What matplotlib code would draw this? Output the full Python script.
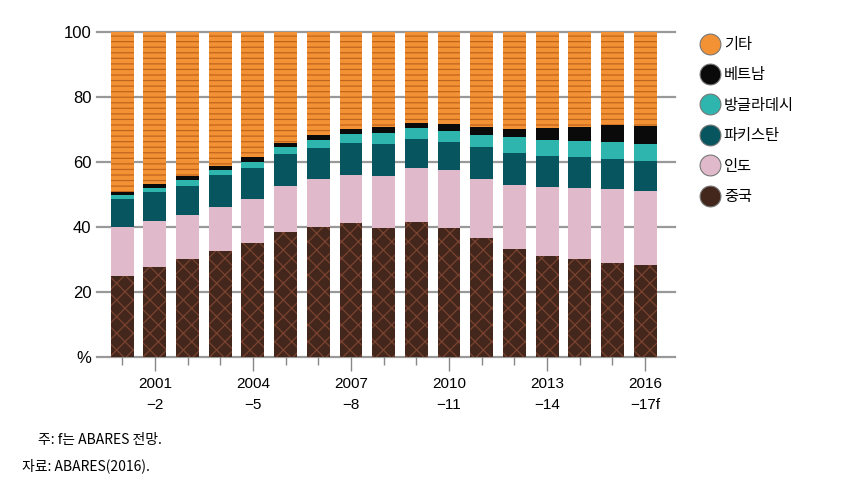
import numpy as np
import matplotlib
matplotlib.use('Agg')
import matplotlib.pyplot as plt
from matplotlib.lines import Line2D

plt.rcParams['font.family'] = ['Liberation Sans', 'Noto Sans CJK KR', 'DejaVu Sans']
plt.rcParams['hatch.linewidth'] = 0.9

# 연도 (2000-01 ~ 2016-17f)
years = ["2000\n−1", "2001\n−2", "2002\n−3", "2003\n−4", "2004\n−5", "2005\n−6",
         "2006\n−7", "2007\n−8", "2008\n−9", "2009\n−10", "2010\n−11", "2011\n−12",
         "2012\n−13", "2013\n−14", "2014\n−15", "2015\n−16", "2016\n−17f"]

china = [25.1, 27.7, 30.3, 32.7, 35.0, 38.4, 40.1, 41.2, 39.8, 41.7, 39.8, 36.5, 33.2, 31.2, 30.1, 29.0, 28.2]
india = [14.8, 14.1, 13.4, 13.5, 13.5, 14.2, 14.6, 14.9, 15.9, 16.3, 17.6, 18.4, 19.8, 21.0, 21.8, 22.7, 22.9]
pakistan = [8.7, 8.9, 9.0, 9.8, 9.7, 9.7, 9.6, 9.6, 9.9, 8.9, 8.6, 9.7, 9.8, 9.5, 9.5, 9.2, 9.2]
bangladesh = [1.4, 1.3, 1.8, 1.6, 1.9, 2.3, 2.5, 2.8, 3.2, 3.4, 3.5, 3.7, 4.8, 5.1, 4.9, 5.1, 5.1]
vietnam = [0.8, 1.1, 1.2, 1.3, 1.3, 1.1, 1.4, 1.7, 2.0, 1.8, 2.3, 2.3, 2.4, 3.5, 4.5, 5.4, 5.7]
others = [100 - sum(v) for v in zip(china, india, pakistan, bangladesh, vietnam)]

# (이름, 값, 색, 무늬색, 무늬)
series = [
    ("중국", china, "#43261c", "#7a4330", "xx"),
    ("인도", india, "#e0bacb", None, None),
    ("파키스탄", pakistan, "#07555e", None, None),
    ("방글라데시", bangladesh, "#2db5ae", None, None),
    ("베트남", vietnam, "#0a0a0a", None, None),
    ("기타", others, "#f39235", "#c0651d", "---"),
]

fig = plt.figure(figsize=(8.63, 4.96), dpi=100)
ax = fig.add_axes([0.1124, 0.2796, 0.67, 0.6565])

x = np.arange(len(years))
bottom = np.zeros(len(years))
for name, vals, color, hcol, hatch in series:
    vals = np.array(vals)
    if hatch:
        ax.bar(x, vals, 0.7, bottom=bottom, color=color, edgecolor=hcol,
               hatch=hatch, linewidth=0, zorder=3)
    else:
        ax.bar(x, vals, 0.7, bottom=bottom, color=color, linewidth=0, zorder=3)
    bottom += vals

ax.set_xlim(-0.77, 16.92)
ax.set_ylim(0, 100)
for yv in [0, 20, 40, 60, 80, 100]:
    ax.axhline(yv, color='#999999', linewidth=1.6, zorder=1, clip_on=False)

for s in ax.spines.values():
    s.set_visible(False)

ax.set_yticks([0, 20, 40, 60, 80, 100])
ax.set_yticklabels(['%', '20', '40', '60', '80', '100'], fontsize=12)
ax.tick_params(axis='y', length=0, pad=4)

major = [1, 4, 7, 10, 13, 16]
ax.set_xticks(major)
ax.set_xticklabels([years[i] for i in major], fontsize=11, linespacing=1.7)
ax.set_xticks([i for i in x if i not in major], minor=True)
ax.tick_params(axis='x', which='major', length=10, color='#888888', width=1, pad=4)
ax.tick_params(axis='x', which='minor', length=6, color='#888888', width=1)

handles = []
for name, vals, color, hcol, hatch in reversed(series):
    handles.append(Line2D([], [], marker='o', linestyle='none', markersize=15,
                          markerfacecolor=color, markeredgecolor='#777777',
                          markeredgewidth=0.8, label=name))
fig.legend(handles=handles, loc='upper left', bbox_to_anchor=(0.805, 0.94),
           frameon=False, labelspacing=0.88, handletextpad=0.3,
           borderaxespad=0, handlelength=1.2,
           prop={'family': ['Noto Sans CJK KR', 'DejaVu Sans'], 'size': 11})

fig.text(0.044, 0.112, "주: f는 ABARES 전망.", fontsize=10,
         family=['Noto Sans CJK KR', 'DejaVu Sans'], va='center')
fig.text(0.025, 0.06, "자료: ABARES(2016).", fontsize=10,
         family=['Noto Sans CJK KR', 'DejaVu Sans'], va='center')

fig.savefig('out.png', dpi=100)
